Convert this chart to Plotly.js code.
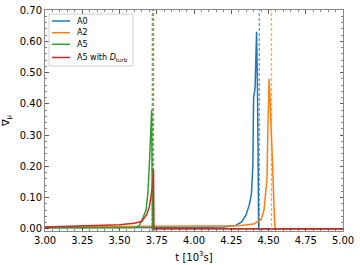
<!DOCTYPE html>
<html>
<head>
<meta charset="utf-8">
<script src="https://cdn.plot.ly/plotly-3.0.1.min.js"></script>
<style>html,body{margin:0;padding:0;background:#fff;}#chart{width:360px;height:265px;}</style>
</head>
<body>
<div id="chart"></div>
<script>
// Series names
const seriesNames = ["A0", "A2", "A5", "A5 with <i>D</i><sub>turb</sub>"];
const seriesColors = ["#1f77b4", "#ff7f0e", "#2ca02c", "#d62728"];

// A0
const tA0 = [3.0, 3.5, 4.0, 4.2, 4.28, 4.32, 4.35, 4.37, 4.385, 4.395, 4.40, 4.41, 4.415, 4.42, 4.426, 4.432, 4.434, 5.0];
const vA0 = [0.003, 0.003, 0.004, 0.006, 0.011, 0.022, 0.045, 0.075, 0.11, 0.2, 0.42, 0.45, 0.6, 0.63, 0.45, 0.05, 0.0, 0.0];
// A2
const tA2 = [3.0, 3.5, 4.0, 4.3, 4.4, 4.45, 4.47, 4.48, 4.49, 4.495, 4.50, 4.504, 4.51, 4.52, 4.53, 4.54, 4.545, 5.0];
const vA2 = [0.006, 0.007, 0.008, 0.01, 0.015, 0.03, 0.06, 0.1, 0.16, 0.3, 0.44, 0.48, 0.42, 0.32, 0.17, 0.03, 0.0, 0.0];
// A5
const tA5 = [3.0, 3.5, 3.6, 3.63, 3.653, 3.678, 3.69, 3.70, 3.708, 3.716, 3.72, 3.721, 5.0];
const vA5 = [0.003, 0.003, 0.004, 0.008, 0.03, 0.06, 0.11, 0.2, 0.29, 0.38, 0.1, 0.0, 0.0];
// A5 with D_turb
const tA5D = [3.0, 3.25, 3.5, 3.6, 3.65, 3.682, 3.70, 3.71, 3.72, 3.728, 3.731, 5.0];
const vA5D = [0.006, 0.009, 0.013, 0.018, 0.024, 0.045, 0.07, 0.1, 0.135, 0.19, 0.0, 0.0];

// Vertical dashed marker positions
const markerT = [4.438, 4.52, 3.72, 3.728];

const xs = [tA0, tA2, tA5, tA5D];
const ys = [vA0, vA2, vA5, vA5D];

const traces = xs.map((x, i) => ({
  x: x, y: ys[i], type: "scatter", mode: "lines", name: seriesNames[i],
  line: {color: seriesColors[i], width: 1.5}, showlegend: false
}));

const shapes = markerT.map((t, i) => ({
  type: "line", xref: "x", yref: "paper", x0: t, x1: t, y0: 0, y1: 1,
  line: {color: seriesColors[i], width: 1.3, dash: "3px,2px"}, opacity: 0.7, layer: "above"
}));

// Plot-area geometry (pixels) used to place the custom legend
const M = {l: 45, r: 17, t: 10, b: 34};
const W = 360, H = 265;
const pw = W - M.l - M.r, ph = H - M.t - M.b;
const px = v => (v - M.l) / pw;
const py = v => (H - M.b - v) / ph;

// Custom legend (box, line samples, labels)
const annotations = [];
shapes.push({type: "rect", xref: "paper", yref: "paper",
  x0: px(49), x1: px(133), y0: py(66), y1: py(14),
  line: {color: "#d0d0d0", width: 1}, fillcolor: "rgba(255,255,255,0.8)", layer: "above"});
const entryY = [21, 32.7, 44.3, 57.5];
seriesNames.forEach((name, i) => {
  shapes.push({type: "line", xref: "paper", yref: "paper",
    x0: px(52), x1: px(70), y0: py(entryY[i]), y1: py(entryY[i]),
    line: {color: seriesColors[i], width: 1.5}, layer: "above"});
  annotations.push({xref: "paper", yref: "paper", x: px(75), y: py(entryY[i]),
    xanchor: "left", yanchor: "middle", text: name, showarrow: false,
    font: {family: "DejaVu Sans", size: 8, color: "#000"}});
});

const axisCommon = {
  showgrid: false, zeroline: false, showline: true, linecolor: "#888", linewidth: 1,
  mirror: "ticks", ticks: "inside", ticklen: 3.5, tickwidth: 0.8, tickcolor: "#333",
  tickfont: {family: "DejaVu Sans", size: 10, color: "#000"}, tickformat: ".2f"
};

const layout = {
  width: W, height: H,
  margin: M,
  paper_bgcolor: "#fff", plot_bgcolor: "#fff",
  showlegend: false,
  xaxis: Object.assign({}, axisCommon, {
    range: [3.0, 5.0], dtick: 0.25, tick0: 3.0,
    minor: {dtick: 0.05, ticks: "inside", ticklen: 2, tickcolor: "#333", tickwidth: 0.6},
    title: {text: "t [10<sup>3</sup>s]", font: {family: "DejaVu Sans", size: 10, color: "#000"}, standoff: 8}
  }),
  yaxis: Object.assign({}, axisCommon, {
    range: [-0.007, 0.70], dtick: 0.1, tick0: 0,
    minor: {dtick: 0.02, ticks: "inside", ticklen: 2, tickcolor: "#333", tickwidth: 0.6},
    title: {text: "∇<sub>μ</sub>", font: {family: "DejaVu Sans", size: 10, color: "#000"}, standoff: 8}
  }),
  shapes: shapes,
  annotations: annotations
};

Plotly.newPlot("chart", traces, layout, {staticPlot: true, displayModeBar: false});
</script>
</body>
</html>
